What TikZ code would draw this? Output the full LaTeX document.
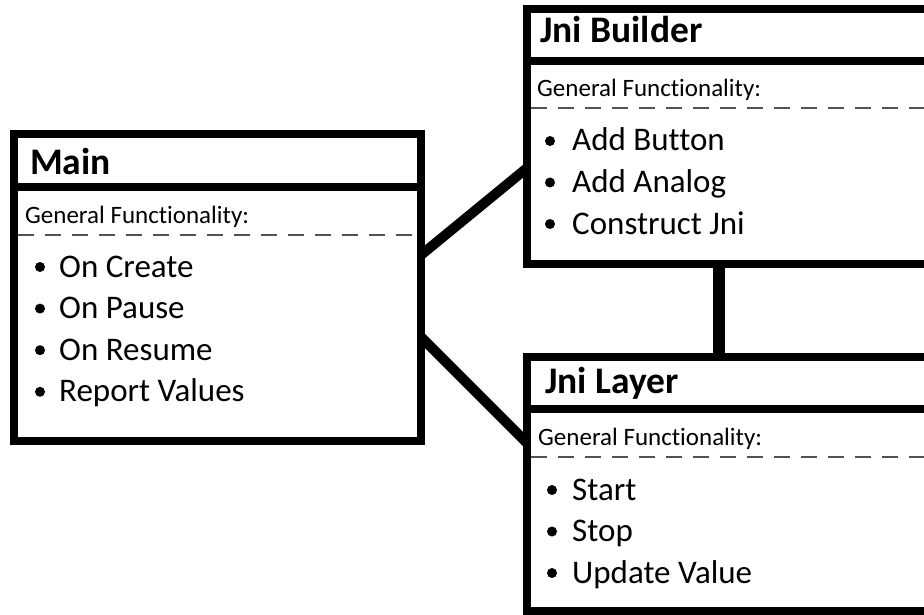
\documentclass[tikz,border=0pt]{standalone}
\usepackage{fontspec}
\setmainfont{Carlito}[Ligatures=NoCommon]
\begin{document}
\begin{tikzpicture}[x=1pt,y=-1pt,
  frame/.style={rectangle,draw=black,fill=white,line width=8pt,outer sep=0pt,inner sep=0pt},
  headrule/.style={line width=7.5pt},
  seprule/.style={draw=black!68,line width=2pt,dash pattern=on 16pt off 11pt},
  link/.style={line width=10pt},
  vlink/.style={line width=12pt},
  title/.style={anchor=base west,inner sep=0pt,font=\fontsize{37.5}{42}\selectfont\bfseries},
  sub/.style={anchor=base west,inner sep=0pt,font=\fontsize{25}{28}\selectfont},
  bul/.style={circle,fill=black,inner sep=0pt,minimum size=10pt},
  item/.style={anchor=base west,inner sep=0pt,font=\fontsize{33}{38}\selectfont}]
\useasboundingbox (0,0) rectangle (924,615);
\clip (0,0) rectangle (924,615);
\fill[white] (0,0) rectangle (924,615);

% box centres
\coordinate (mainc) at (217.5,287.5);
\coordinate (buildc) at (743.5,136.5);
\coordinate (layerc) at (743.5,484);

% boxes
\node[frame,minimum width=407pt,minimum height=307pt] (main) at (mainc) {};
\node[frame,minimum width=433pt,minimum height=255pt] (builder) at (buildc) {};
\node[frame,minimum width=433pt,minimum height=254pt] (layer) at (layerc) {};

% connectors
\draw[link] ([yshift=32.5pt]main.east) -- ([yshift=-31.5pt]builder.west);
\draw[link] ([yshift=-49.5pt]main.east) -- ([yshift=41pt]layer.west);
\draw[vlink] ([xshift=-24.5pt]builder.south) -- ([xshift=-24.5pt]layer.north);

% redraw frames over connector ends
\draw[line width=8pt] (main.south west) rectangle (main.north east);
\draw[line width=8pt] (builder.south west) rectangle (builder.north east);
\draw[line width=8pt] (layer.south west) rectangle (layer.north east);

% header rules
\draw[headrule] (main.west |- 0,187) -- (main.east |- 0,187);
\draw[headrule] (builder.west |- 0,61) -- (builder.east |- 0,61);
\draw[headrule] (layer.west |- 0,409) -- (layer.east |- 0,409);

% dashed separators
\draw[seprule] ([xshift=4pt]main.west |- 0,235) -- ([xshift=-4pt]main.east |- 0,235);
\draw[seprule] ([xshift=4pt]builder.west |- 0,108) -- ([xshift=-4pt]builder.east |- 0,108);
\draw[seprule] ([xshift=4pt]layer.west |- 0,457) -- ([xshift=-4pt]layer.east |- 0,457);

% Main
\node[title] (mainT) at (30,175) {Main};
\node[sub] (mainG) at (25,223) {General Functionality:};
\foreach \t [count=\i] in {On Create,On Pause,On Resume,Report Values}{
  \pgfmathsetmacro{\yy}{277+41.6*(\i-1)}
  \node[bul] (mainB\i) at (40,\yy-10) {};
  \node[item] (mainI\i) at (59,\yy) {\t};
}

% Jni Builder
\node[title] (buildT) at (540,43) {Jni Builder};
\node[sub] (buildG) at (537,97) {General Functionality:};
\foreach \t [count=\i] in {Add Button,Add Analog,Construct Jni}{
  \pgfmathsetmacro{\yy}{151+41.5*(\i-1)}
  \node[bul] (buildB\i) at (550,\yy-10) {};
  \node[item] (buildI\i) at (572,\yy) {\t};
}

% Jni Layer
\node[title] (layerT) at (545,393) {Jni Layer};
\node[sub] (layerG) at (538,445) {General Functionality:};
\foreach \t [count=\i] in {Start,Stop,Update Value}{
  \pgfmathsetmacro{\yy}{500+41.5*(\i-1)}
  \node[bul] (layerB\i) at (552,\yy-10) {};
  \node[item] (layerI\i) at (572,\yy) {\t};
}
\end{tikzpicture}
\end{document}
